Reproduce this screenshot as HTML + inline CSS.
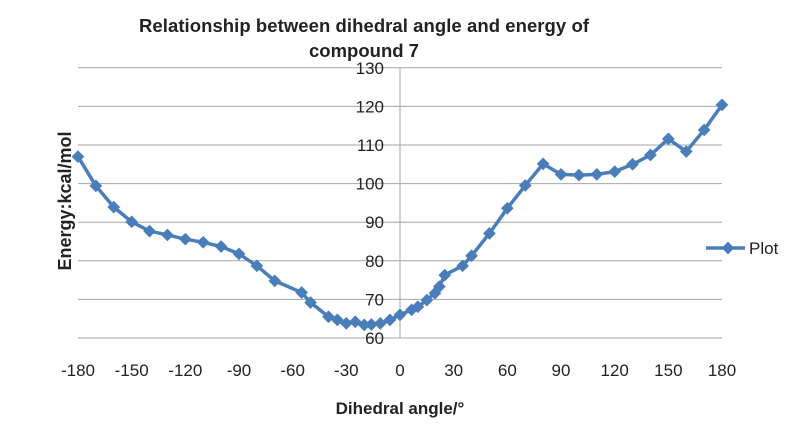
<!DOCTYPE html>
<html><head><meta charset="utf-8"><style>
body{margin:0;background:#fff;}
svg text{font-family:"Liberation Sans",sans-serif;fill:#222;}
</style></head><body>
<svg width="800" height="428" viewBox="0 0 800 428">
<g id="grid"></g>
<g id="yticks"></g>
<g id="xticks"></g>
<g id="series"></g>
<text x="364" y="32" text-anchor="middle" font-size="18.5" font-weight="bold" textLength="450">Relationship between dihedral angle and  energy of</text>
<text x="364" y="57" text-anchor="middle" font-size="18.5" font-weight="bold">compound 7</text>
<text transform="translate(71,201) rotate(-90)" text-anchor="middle" font-size="18" font-weight="bold">Energy:kcal/mol</text>
<text x="400" y="414" text-anchor="middle" font-size="17" font-weight="bold">Dihedral angle/°</text>
<g>
<line x1="706" y1="248" x2="745" y2="248" stroke="#4a7ebb" stroke-width="3.5"/>
<rect x="723.5" y="243.5" width="9" height="9" fill="#4a7ebb" transform="rotate(45 728 248)"/>
<text x="749" y="254" font-size="17">Plot</text>
</g>
</svg>
<script>
const xVals=[-180,-170,-160,-150,-140,-130,-120,-110,-100,-90,-80,-70,-55,-50,-40,-35,-30,-25,-20,-16,-11,-5.6,0,6.5,10,15,19.5,22,25,35,40,50,60,70,80,90,100,110,120,130,140,150,160,170,180];
const yVals=[107,99.4,93.9,90.1,87.7,86.7,85.6,84.8,83.7,81.8,78.7,74.8,71.8,69.2,65.5,64.7,63.8,64.2,63.4,63.5,63.8,64.7,66,67.3,68.1,69.8,71.6,73.3,76.3,78.7,81.3,87.1,93.6,99.5,105.1,102.4,102.2,102.4,103.1,105,107.4,111.6,108.3,113.9,120.4];
const yTicks=[60,70,80,90,100,110,120,130];
const xTicks=[-180,-150,-120,-90,-60,-30,0,30,60,90,120,150,180];
const NS="http://www.w3.org/2000/svg";
function sx(v){return 400+v*1.789;}
function sy(v){return 338-(v-60)*3.86;}
const grid=document.getElementById('grid'),yt=document.getElementById('yticks'),xt=document.getElementById('xticks'),ser=document.getElementById('series');
yTicks.forEach(t=>{
 const l=document.createElementNS(NS,'line');
 
 
 l.setAttribute('x1',78);l.setAttribute('x2',722);l.setAttribute('y1',sy(t));l.setAttribute('y2',sy(t));
 l.setAttribute('stroke','#a6a6a6');l.setAttribute('stroke-width','1');grid.appendChild(l);
 const tx=document.createElementNS(NS,'text');
 
 
 tx.setAttribute('x',384);tx.setAttribute('y',sy(t)+6);tx.setAttribute('text-anchor','end');tx.setAttribute('font-size','17');
 tx.textContent=t;yt.appendChild(tx);
});
const ax=document.createElementNS(NS,'line');


ax.setAttribute('x1',sx(0));ax.setAttribute('x2',sx(0));ax.setAttribute('y1',sy(130));ax.setAttribute('y2',sy(60));
ax.setAttribute('stroke','#a6a6a6');grid.appendChild(ax);
xTicks.forEach(t=>{
 const tx=document.createElementNS(NS,'text');
 
 
 tx.setAttribute('x',sx(t));tx.setAttribute('y',376);tx.setAttribute('text-anchor','middle');tx.setAttribute('font-size','17');
 tx.textContent=t;xt.appendChild(tx);
});
const pl=document.createElementNS(NS,'polyline');


pl.setAttribute('points',xVals.map((x,i)=>sx(x)+','+sy(yVals[i])).join(' '));
pl.setAttribute('fill','none');pl.setAttribute('stroke','#4a7ebb');pl.setAttribute('stroke-width','3.5');pl.setAttribute('stroke-linejoin','round');
ser.appendChild(pl);
xVals.forEach((x,i)=>{
 const r=document.createElementNS(NS,'rect');
 
 
 const cx=sx(x),cy=sy(yVals[i]);
 r.setAttribute('x',cx-4.5);r.setAttribute('y',cy-4.5);r.setAttribute('width',9);r.setAttribute('height',9);
 r.setAttribute('fill','#4a7ebb');r.setAttribute('transform','rotate(45 '+cx+' '+cy+')');
 ser.appendChild(r);
});
</script>
</body></html>
